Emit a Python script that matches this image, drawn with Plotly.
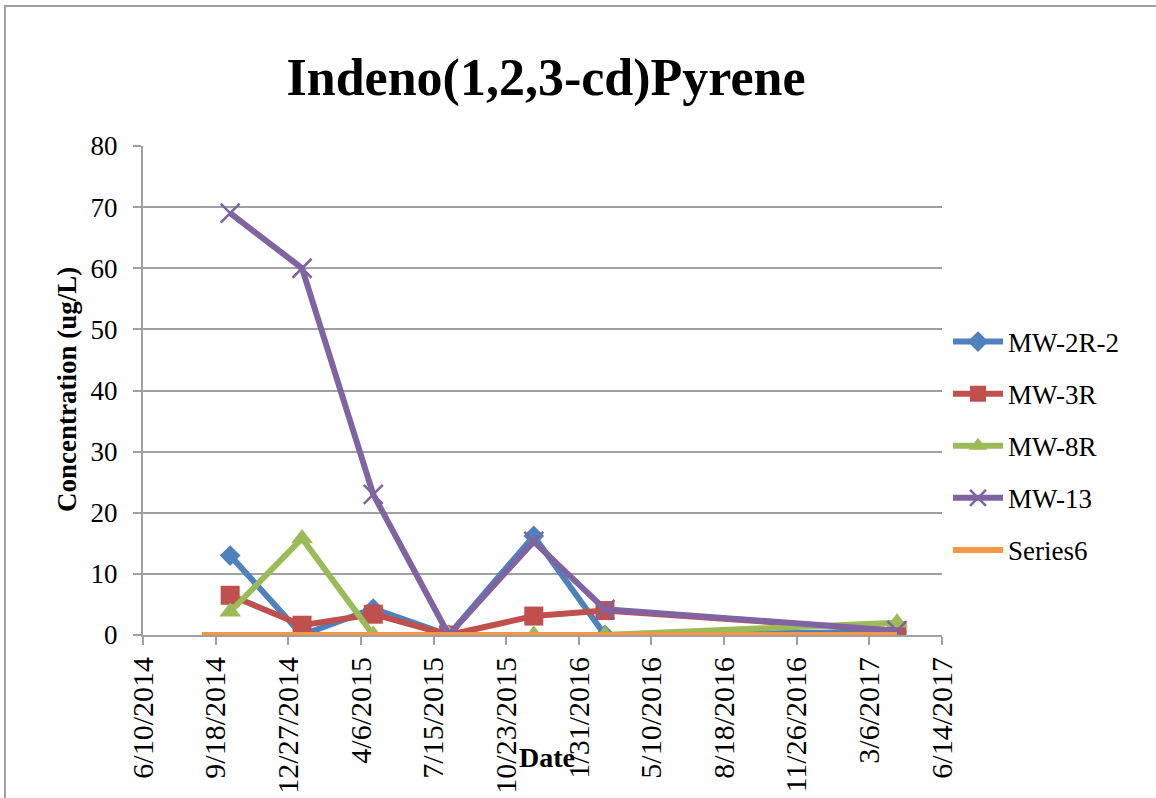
import plotly.graph_objects as go

# Sampling dates and measured concentrations (ug/L)
sample_dates = ["2014-10-08", "2015-01-15", "2015-04-23", "2015-08-05",
                "2015-11-30", "2016-03-07", "2017-04-13"]
mw_2r_2 = [13.0, 0.0, 4.3, 0.0, 16.2, 0.0, 0.5]
mw_3r = [6.5, 1.6, 3.4, 0.0, 3.1, 4.0, 0.7]
mw_8r = [3.8, 15.8, 0.0, 0.0, 0.0, 0.0, 2.0]
mw_13 = [69.0, 60.0, 23.0, 0.0, 15.3, 4.2, 0.7]
series6_dates = ["2014-08-30", "2017-04-13"]
series6 = [0.0, 0.0]

# Date axis ticks (100-day spacing)
tick_dates = ["2014-06-10", "2014-09-18", "2014-12-27", "2015-04-06",
              "2015-07-15", "2015-10-23", "2016-01-31", "2016-05-10",
              "2016-08-18", "2016-11-26", "2017-03-06", "2017-06-14"]
tick_labels = ["6/10/2014", "9/18/2014", "12/27/2014", "4/6/2015",
               "7/15/2015", "10/23/2015", "1/31/2016", "5/10/2016",
               "8/18/2016", "11/26/2016", "3/6/2017", "6/14/2017"]
y_ticks = [0, 10, 20, 30, 40, 50, 60, 70, 80]

SERIF = "Liberation Serif"
GRID = "#A0A0A0"

W, H = 1156, 798
L, R, T, B = 143, 214, 146, 163
pw, ph = W - L - R, H - T - B


def px_x(x):
    return (x - L) / pw


def px_y(y):
    return (H - B - y) / ph


fig = go.Figure()

series = [
    ("MW-2R-2", sample_dates, mw_2r_2, "#4F81BD",
     dict(symbol="diamond", size=16)),
    ("MW-3R", sample_dates, mw_3r, "#C0504D",
     dict(symbol="square", size=19)),
    ("MW-8R", sample_dates, mw_8r, "#9BBB59",
     dict(symbol="triangle-up", size=19)),
    ("MW-13", sample_dates, mw_13, "#8064A2",
     dict(symbol="x-thin", size=19, line=dict(width=2.5, color="#8064A2"))),
    ("Series6", series6_dates, series6, "#F79646", None),
]

for name, xs, ys, color, marker in series:
    if marker is None:
        fig.add_trace(go.Scatter(
            x=xs, y=ys, name=name, mode="lines",
            line=dict(color=color, width=6),
            legendgroup=name,
        ))
    else:
        m = dict(color=color)
        m.update(marker)
        fig.add_trace(go.Scatter(
            x=xs, y=ys, name=name, mode="lines+markers",
            line=dict(color=color, width=6),
            marker=m,
            legendgroup=name,
        ))

fig.update_xaxes(
    type="date",
    range=[tick_dates[0], tick_dates[-1]],
    tickvals=tick_dates,
    ticktext=tick_labels,
    tickangle=-90,
    tickfont=dict(family=SERIF, size=30, color="#000000"),
    ticks="outside", ticklen=8, tickwidth=2, tickcolor=GRID,
    ticklabelstandoff=0,
    showline=True, linecolor=GRID, linewidth=2,
    showgrid=False, zeroline=False,
    automargin=False,
)
fig.update_yaxes(
    range=[0, 80],
    tickvals=y_ticks,
    tickfont=dict(family=SERIF, size=27, color="#000000"),
    ticks="outside", ticklen=8, tickwidth=2, tickcolor=GRID,
    ticklabelstandoff=10,
    showline=True, linecolor=GRID, linewidth=2,
    showgrid=True, gridcolor=GRID, gridwidth=2,
    zeroline=False,
    automargin=False,
)

fig.update_layout(
    width=W, height=H,
    margin=dict(l=L, r=R, t=T, b=B, pad=0, autoexpand=False),
    paper_bgcolor="white", plot_bgcolor="white",
    title=dict(
        text="<b>Indeno(1,2,3-cd)Pyrene</b>",
        font=dict(family=SERIF, size=52, color="#000000"),
        x=px_x(546), xref="paper", xanchor="center",
        y=1 - 77 / H, yref="container", yanchor="middle",
    ),
    legend=dict(
        x=px_x(948), y=px_y(446), xanchor="left", yanchor="middle",
        font=dict(family=SERIF, size=27, color="#000000"),
        tracegroupgap=14,
        itemwidth=50,
        bgcolor="rgba(0,0,0,0)",
    ),
    showlegend=True,
    annotations=[
        dict(text="<b>Concentration (ug/L)</b>", textangle=-90,
             xref="paper", yref="paper", x=px_x(67), y=px_y(390),
             xanchor="center", yanchor="middle", showarrow=False,
             font=dict(family=SERIF, size=27, color="#000000")),
        dict(text="<b>Date</b>",
             xref="paper", yref="paper", x=px_x(547), y=px_y(758),
             xanchor="center", yanchor="middle", showarrow=False,
             font=dict(family=SERIF, size=28, color="#000000")),
    ],
    shapes=[
        dict(type="rect", xref="paper", yref="paper",
             x0=px_x(5), x1=px_x(1200), y0=px_y(840), y1=px_y(6),
             line=dict(color="#A0A0A0", width=2), fillcolor="rgba(0,0,0,0)",
             layer="below"),
    ],
)

fig.write_html("out.html")
